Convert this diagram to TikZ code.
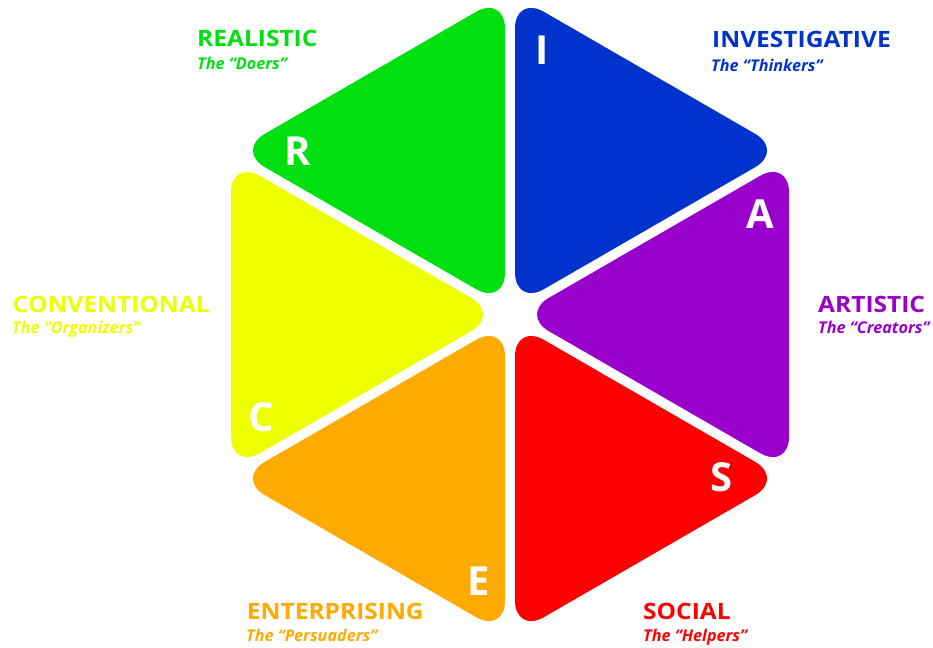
\documentclass[tikz,border=0pt]{standalone}
\usepackage{fontspec}
\setmainfont{Open Sans}
\newfontfamily\labfont[FakeStretch=1.09]{Open Sans}
\definecolor{cR}{RGB}{0,224,16}
\definecolor{cI}{RGB}{0,51,204}
\definecolor{cA}{RGB}{153,0,204}
\definecolor{cS}{RGB}{255,0,0}
\definecolor{cE}{RGB}{255,170,0}
\definecolor{cC}{RGB}{238,255,0}
\begin{document}
\begin{tikzpicture}[x=1pt,y=-1pt,
  tri/.style={rounded corners=33.5pt},
  big/.style={text=white,font=\fontsize{40}{40}\selectfont\bfseries,anchor=base,inner sep=0pt},
  lab/.style={font=\labfont\fontsize{22.5}{26}\selectfont\bfseries,anchor=base west,inner sep=0pt},
  sub/.style={font=\fontsize{16.2}{18}\selectfont\bfseries\itshape,anchor=base west,inner sep=0pt}]
\useasboundingbox (0,0) rectangle (933,647);
\coordinate (O) at (510,314.5);
\coordinate (V90) at (510,3.8);
\coordinate (V30) at (779.07,159.15);
\coordinate (Vm30) at (779.07,469.85);
\coordinate (Vm90) at (510,625.2);
\coordinate (V210) at (240.93,469.85);
\coordinate (V150) at (240.93,159.15);
% triangles, each moved 10 away from the centre along its bisector
\def\sh{-5,-8.66}
\fill[cR,tri] ([shift={(\sh)}]O) -- ([shift={(\sh)}]V90) -- ([shift={(\sh)}]V150) -- cycle;
\def\sh{5,-8.66}
\fill[cI,tri] ([shift={(\sh)}]O) -- ([shift={(\sh)}]V30) -- ([shift={(\sh)}]V90) -- cycle;
\def\sh{10,0}
\fill[cA,tri] ([shift={(\sh)}]O) -- ([shift={(\sh)}]Vm30) -- ([shift={(\sh)}]V30) -- cycle;
\def\sh{5,8.66}
\fill[cS,tri] ([shift={(\sh)}]O) -- ([shift={(\sh)}]Vm90) -- ([shift={(\sh)}]Vm30) -- cycle;
\def\sh{-5,8.66}
\fill[cE,tri] ([shift={(\sh)}]O) -- ([shift={(\sh)}]V210) -- ([shift={(\sh)}]Vm90) -- cycle;
\def\sh{-10,0}
\fill[cC,tri] ([shift={(\sh)}]O) -- ([shift={(\sh)}]V150) -- ([shift={(\sh)}]V210) -- cycle;
% letters
\node[big] (lI) at (542,65) {I};
\node[big] (lR) at (298,166) {R};
\node[big] (lA) at (760,228) {A};
\node[big] (lC) at (261,431) {C};
\node[big] (lS) at (722,491) {S};
\node[big] (lE) at (478.5,595) {E};
% labels
\node[lab,text=cR] (tR) at (197,47) {REALISTIC};
\node[sub,text=cR] (sR) at (197,70) {The “Doers”};
\node[lab,text=cI] (tI) at (712,47.5) {INVESTIGATIVE};
\node[sub,text=cI] (sI) at (711,71.7) {The “Thinkers”};
\node[lab,text=cC] (tC) at (12.7,312) {CONVENTIONAL};
\node[sub,text=cC] (sC) at (12,333) {The “Organizers”};
\node[lab,text=cA] (tA) at (818,312) {ARTISTIC};
\node[sub,text=cA] (sA) at (818,333) {The “Creators”};
\node[lab,text=cE] (tE) at (246.7,619) {ENTERPRISING};
\node[sub,text=cE] (sE) at (246,641.7) {The “Persuaders”};
\node[lab,text=cS] (tS) at (643,619) {SOCIAL};
\node[sub,text=cS] (sS) at (643,641) {The “Helpers”};
\end{tikzpicture}
\end{document}
